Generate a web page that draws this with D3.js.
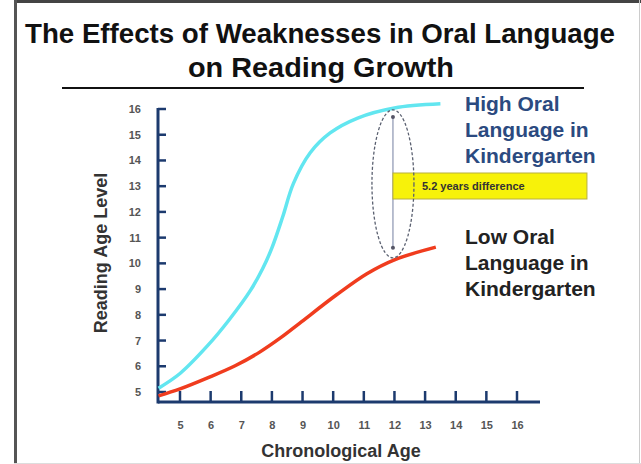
<!DOCTYPE html>
<html>
<head>
<meta charset="utf-8">
<script src="https://cdn.jsdelivr.net/npm/d3@7"></script>
<style>
  body { margin: 0; background: #fff; }
  svg { display: block; font-family: "Liberation Sans", Arial, sans-serif; }
</style>
</head>
<body>
<div id="chart"></div>
<script>
'use strict';

// ages on the x axis, reading ages on the y axis
const xTicks = [5, 6, 7, 8, 9, 10, 11, 12, 13, 14, 15, 16];
const yTicks = [5, 6, 7, 8, 9, 10, 11, 12, 13, 14, 15, 16];

// high oral language curve
const highAge = [4.3, 5.0, 5.9, 6.6, 7.3, 7.7, 8.0, 8.35, 8.7, 9.25, 9.9, 10.8, 12.0, 13.5];
const highRead = [5.15, 5.72, 6.8, 7.8, 8.95, 9.8, 10.6, 11.8, 13.1, 14.3, 15.07, 15.65, 16.04, 16.2];

// low oral language curve
const lowAge = [4.3, 5.0, 5.9, 6.8, 7.6, 8.3, 8.9, 10.1, 11.1, 12.0, 13.35];
const lowRead = [4.85, 5.12, 5.55, 6.02, 6.55, 7.12, 7.67, 8.77, 9.6, 10.14, 10.63];

const diffLabel = '5.2 years difference';
const highLabel = ['High Oral', 'Language in', 'Kindergarten'];
const lowLabel = ['Low Oral', 'Language in', 'Kindergarten'];

const width = 641, height = 464;
const navy = '#1c3a6e';

const svg = d3.select('#chart').append('svg')
  .attr('width', width)
  .attr('height', height);

// frame
svg.append('rect').attr('x', 0).attr('y', 0).attr('width', width).attr('height', height).attr('fill', '#fff');
svg.append('line').attr('x1', 14).attr('x2', width).attr('y1', 1.5).attr('y2', 1.5)
  .attr('stroke', '#444').attr('stroke-width', 3);
svg.append('line').attr('x1', 15.5).attr('x2', 15.5).attr('y1', 0).attr('y2', height)
  .attr('stroke', '#555').attr('stroke-width', 3);
svg.append('line').attr('x1', 639.5).attr('x2', 639.5).attr('y1', 0).attr('y2', height)
  .attr('stroke', '#ccc').attr('stroke-width', 1);
svg.append('line').attr('x1', 14).attr('x2', width).attr('y1', 463.5).attr('y2', 463.5)
  .attr('stroke', '#ddd').attr('stroke-width', 1);

// title
svg.append('text').attr('x', 320).attr('y', 43)
  .attr('text-anchor', 'middle').attr('font-size', 28).attr('font-weight', 'bold').attr('fill', '#111')
  .attr('textLength', 590).attr('lengthAdjust', 'spacingAndGlyphs')
  .text('The Effects of Weaknesses in Oral Language');
svg.append('text').attr('x', 321).attr('y', 77)
  .attr('text-anchor', 'middle').attr('font-size', 28).attr('font-weight', 'bold').attr('fill', '#111')
  .attr('textLength', 266).attr('lengthAdjust', 'spacingAndGlyphs')
  .text('on Reading Growth');
svg.append('line').attr('x1', 62).attr('x2', 584).attr('y1', 88).attr('y2', 88)
  .attr('stroke', '#111').attr('stroke-width', 2);

// scales
const x = d3.scaleLinear().domain([5, 16]).range([180, 517]);
const y = d3.scaleLinear().domain([5, 16]).range([392, 109]);
const x0 = 158, y0 = 402;

// axes
const xAxis = d3.axisBottom(x).tickValues(xTicks).tickSize(0).tickPadding(19);
const yAxis = d3.axisLeft(y).tickValues(yTicks).tickSize(0).tickPadding(17);

const gx = svg.append('g').attr('transform', `translate(0,${y0})`).call(xAxis);
gx.select('.domain').remove();
gx.selectAll('text').attr('font-size', 11).attr('font-weight', 'bold').attr('fill', '#555')
  .attr('font-family', '"Liberation Sans", Arial, sans-serif');

const gy = svg.append('g').attr('transform', `translate(${x0},0)`).call(yAxis);
gy.select('.domain').remove();
gy.selectAll('text').attr('font-size', 11).attr('font-weight', 'bold').attr('fill', '#555')
  .attr('font-family', '"Liberation Sans", Arial, sans-serif');

// axis lines and inward ticks
svg.append('line').attr('x1', x0).attr('x2', 540).attr('y1', y0).attr('y2', y0)
  .attr('stroke', navy).attr('stroke-width', 3);
svg.append('line').attr('x1', x0).attr('x2', x0).attr('y1', 108).attr('y2', y0 + 1.5)
  .attr('stroke', navy).attr('stroke-width', 3);
svg.selectAll('.xt').data(xTicks).enter().append('line')
  .attr('x1', d => x(d)).attr('x2', d => x(d))
  .attr('y1', y0).attr('y2', y0 - 11)
  .attr('stroke', navy).attr('stroke-width', 2.5);
svg.selectAll('.yt').data(yTicks).enter().append('line')
  .attr('x1', x0).attr('x2', x0 + 8)
  .attr('y1', d => y(d)).attr('y2', d => y(d))
  .attr('stroke', navy).attr('stroke-width', 2.5);

// curves
const line = d3.line().x(d => x(d[0])).y(d => y(d[1])).curve(d3.curveCatmullRom);
svg.append('path').datum(lowAge.map((a, i) => [a, lowRead[i]]))
  .attr('d', line).attr('fill', 'none').attr('stroke', '#f03c1e').attr('stroke-width', 3.5);
svg.append('path').datum(highAge.map((a, i) => [a, highRead[i]]))
  .attr('d', line).attr('fill', 'none').attr('stroke', '#62e6f0').attr('stroke-width', 3.5);

// difference marker at age 12
const hi12 = highRead[highAge.indexOf(12.0)];
const lo12 = lowRead[lowAge.indexOf(12.0)];
const cx = x(12) - 1.5;
const topY = y(hi12) + 9, botY = y(lo12) - 12;
svg.append('line').attr('x1', cx).attr('x2', cx)
  .attr('y1', topY).attr('y2', botY)
  .attr('stroke', '#8a94b0').attr('stroke-width', 1.2);
svg.selectAll('.dot').data([topY, botY]).enter().append('circle')
  .attr('cx', cx).attr('cy', d => d).attr('r', 2).attr('fill', '#556');

// yellow callout
svg.append('rect').attr('x', cx).attr('y', 173).attr('width', 194).attr('height', 26)
  .attr('fill', '#f7f20a').attr('stroke', '#b8b040').attr('stroke-width', 1);
svg.append('text').attr('x', cx + 29).attr('y', 190)
  .attr('font-size', 11).attr('font-weight', 'bold').attr('fill', '#333')
  .text(diffLabel);

// dashed ellipse
svg.append('ellipse').attr('cx', cx).attr('cy', (y(hi12) + y(lo12)) / 2)
  .attr('rx', 21).attr('ry', 74)
  .attr('fill', 'none').attr('stroke', '#5a6070').attr('stroke-width', 1.3)
  .attr('stroke-dasharray', '3,2');

// curve labels
svg.append('g').selectAll('text').data(highLabel).enter().append('text')
  .attr('x', 465).attr('y', (d, i) => 111 + i * 26)
  .attr('font-size', 21).attr('font-weight', 'bold').attr('fill', '#2b4a80')
  .text(d => d);
svg.append('g').selectAll('text').data(lowLabel).enter().append('text')
  .attr('x', 465).attr('y', (d, i) => 244 + i * 26)
  .attr('font-size', 21).attr('font-weight', 'bold').attr('fill', '#222')
  .text(d => d);

// axis titles
svg.append('text').attr('x', 341).attr('y', 457)
  .attr('text-anchor', 'middle').attr('font-size', 18).attr('font-weight', 'bold').attr('fill', '#333')
  .text('Chronological Age');
svg.append('text').attr('transform', 'translate(107,253) rotate(-90)')
  .attr('text-anchor', 'middle').attr('font-size', 18).attr('font-weight', 'bold').attr('fill', '#333')
  .text('Reading Age Level');
</script>
</body>
</html>
